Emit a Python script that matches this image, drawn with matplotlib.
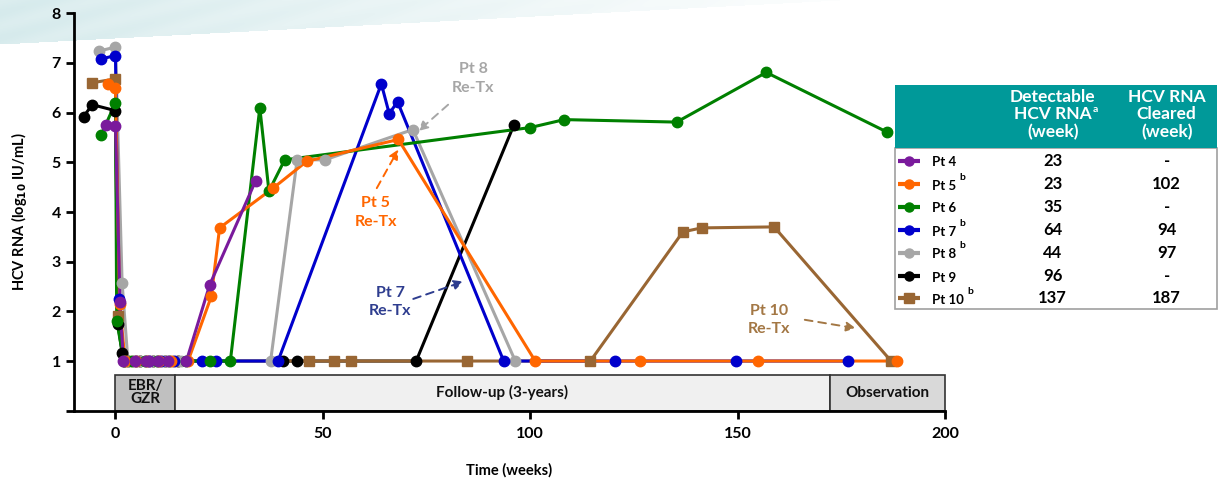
import numpy as np
import matplotlib
matplotlib.use("Agg")
import matplotlib.pyplot as plt
from matplotlib.patches import Rectangle

plt.rcParams['font.family'] = ['Lato', 'DejaVu Sans']

# ---------------- data ----------------
patients = ["Pt 4", "Pt 5", "Pt 6", "Pt 7", "Pt 8", "Pt 9", "Pt 10"]
superscripts = ["", "b", "", "b", "b", "", "b"]
detectable_week = ["23", "23", "35", "64", "44", "96", "137"]
cleared_week = ["-", "102", "-", "94", "97", "-", "187"]
colors = ["#7a1a9c", "#ff6600", "#008000", "#0000cc", "#a6a6a6", "#000000", "#996633"]
markers = ["o", "o", "o", "o", "o", "o", "s"]

pt4_weeks = [-2.4, 0, 1.1, 1.9, 4.8, 7.4, 8.2, 10.2, 12.6, 17.1, 22.7, 33.8]
pt4_vals = [5.76, 5.73, 2.18, 1, 1, 1, 1, 1, 1, 1, 2.53, 4.63]

pt5_weeks = [-1.9, 0, 1.0, 2.3, 5, 7.5, 10.5, 13.5, 17.5, 23.1, 25.1, 38, 46.1, 68.2, 101.2, 126.4, 154.8, 188.4]
pt5_vals = [6.57, 6.50, 2.15, 1, 1, 1, 1, 1, 1, 2.30, 3.68, 4.48, 5.02, 5.46, 1, 1, 1, 1]

pt6_weeks = [-3.4, 0, 0.3, 2, 4, 7, 10, 13, 17, 22.7, 27.7, 34.8, 37, 40.8, 100, 108.2, 135.3, 156.9, 186]
pt6_vals = [5.56, 6.20, 1.81, 1, 1, 1, 1, 1, 1, 1, 1, 6.10, 4.42, 5.05, 5.70, 5.86, 5.81, 6.81, 5.61]

pt7_weeks = [-3.5, 0, 0.8, 2, 5, 8, 11, 14, 20.8, 24.3, 39.2, 64.1, 66, 68, 93.6, 120.5, 149.7, 176.5]
pt7_vals = [7.08, 7.15, 2.25, 1, 1, 1, 1, 1, 1, 1, 1, 6.58, 5.98, 6.22, 1, 1, 1, 1]

pt8_weeks = [-4.0, 0, 1.6, 3, 6, 9, 12, 15.9, 37.4, 43.8, 50.5, 71.7, 96.4]
pt8_vals = [7.24, 7.32, 2.57, 1, 1, 1, 1, 1, 1, 5.05, 5.05, 5.66, 1]

pt9_weeks = [-7.7, -5.6, 0, 0.6, 1.6, 3, 6, 9, 12, 15, 40.4, 43.8, 72.5, 96.1]
pt9_vals = [5.92, 6.16, 6.04, 1.74, 1.17, 1, 1, 1, 1, 1, 1, 1, 1, 5.76]

pt10_weeks = [-5.7, 0, 0.6, 2.5, 5, 8, 11, 14, 46.6, 52.7, 56.7, 84.7, 114.5, 136.8, 141.3, 158.8, 187]
pt10_vals = [6.60, 6.68, 1.91, 1, 1, 1, 1, 1, 1, 1, 1, 1, 1, 3.60, 3.68, 3.70, 1]

series_weeks = [pt4_weeks, pt5_weeks, pt6_weeks, pt7_weeks, pt8_weeks, pt9_weeks, pt10_weeks]
series_vals = [pt4_vals, pt5_vals, pt6_vals, pt7_vals, pt8_vals, pt9_vals, pt10_vals]

phase_labels = ["EBR/\nGZR", "Follow-up (3-years)", "Observation"]
phase_starts = [0, 14.3, 172.3]
phase_ends = [14.3, 172.3, 200]
phase_colors = ["#c0c0c0", "#f0f0f0", "#d9d9d9"]

annot_texts = ["Pt 8\nRe-Tx", "Pt 5\nRe-Tx", "Pt 7\nRe-Tx", "Pt 10\nRe-Tx"]
annot_colors = ["#a6a6a6", "#ff6600", "#2e3d8f", "#a37744"]
annot_text_xy = [(86.3, 6.69), (62.7, 3.99), (66.2, 2.19), (157.6, 1.83)]
annot_start_xy = [(80.2, 6.16), (63.0, 4.48), (71.8, 2.25), (166.2, 1.83)]
annot_end_xy = [(73.0, 5.63), (68.2, 5.26), (83.9, 2.60), (178.5, 1.66)]

W, H = 1219, 478
fig = plt.figure(figsize=(W / 100, H / 100), dpi=100)

# ---------------- background swoosh ----------------
bg = fig.add_axes([0, 0, 1, 1], zorder=-5)
bg.set_xlim(0, W); bg.set_ylim(H, 0); bg.axis("off")
X, Y = np.meshgrid(np.arange(W), np.arange(H))
edge = 44 * (1 - X / 840.0)
inside = (Y < edge)
img = np.zeros((H, W, 4))
img[..., 0] = 0.82
img[..., 1] = 0.91
img[..., 2] = 0.92
alpha = np.clip(0.9 * (1 - X / 900.0), 0, 1) * (0.85 + 0.15 * np.sin(X / 30.0 + Y / 8.0) ** 2)
img[..., 3] = np.where(inside, alpha, 0)
bg.imshow(img, extent=(0, W, H, 0), aspect="auto", interpolation="bilinear")

# ---------------- main axes ----------------
ax = fig.add_axes([74 / W, 1 - 410.7 / H, (945 - 74) / W, (410.7 - 13.3) / H])
ax.patch.set_alpha(0)
ax.set_xlim(-10, 200)
ax.set_ylim(0, 8)
for s in ["top", "right"]:
    ax.spines[s].set_visible(False)
for s in ["left", "bottom"]:
    ax.spines[s].set_linewidth(2)
ax.set_yticks(range(0, 9))
ax.set_yticklabels([""] + [str(i) for i in range(1, 9)])
ax.set_xticks([0, 50, 100, 150, 200])
ax.tick_params(axis="both", direction="out", width=2, length=6, labelsize=11.5)
ax.tick_params(axis="x", pad=6)
for lab in ax.get_xticklabels() + ax.get_yticklabels():
    lab.set_fontweight("bold")
ax.set_ylabel("HCV RNA (log$_{\\mathbf{10}}$ IU/mL)", fontsize=10.5, fontweight="bold", labelpad=16)
ax.set_xlabel("Time (weeks)", fontsize=10.5, fontweight="bold", labelpad=16)

# phase bar
for lab, x0, x1, c in zip(phase_labels, phase_starts, phase_ends, phase_colors):
    ax.add_patch(Rectangle((x0, 0), x1 - x0, 0.71, facecolor=c, edgecolor="#333333", lw=1.2, zorder=2, clip_on=False))
    ax.text((x0 + x1) / 2, 0.36, lab, ha="center", va="center", fontsize=11, fontweight="bold",
            linespacing=0.9, zorder=3, color="#111111")

# lines first, then markers (markers sit on top of every line)
order = [5, 6, 4, 3, 2, 1, 0]
for k, i in enumerate(order):
    ax.plot(series_weeks[i], series_vals[i], color=colors[i], lw=2.2, zorder=4 + k * 0.1,
            solid_joinstyle="round", clip_on=False)
for k, i in enumerate(order):
    ax.plot(series_weeks[i], series_vals[i], linestyle="none", marker=markers[i],
            ms=7.5, color=colors[i], zorder=6 + k * 0.1, clip_on=False)

# annotations
for t, c, txy, sxy, exy in zip(annot_texts, annot_colors, annot_text_xy, annot_start_xy, annot_end_xy):
    ax.text(txy[0], txy[1], t, color=c, ha="center", va="center", fontsize=11.5, fontweight="bold",
            linespacing=1.4, zorder=8)
    ax.annotate("", xy=exy, xytext=sxy,
                arrowprops=dict(arrowstyle="-|>", linestyle=(0, (4, 3)), color=c, lw=1.4,
                                mutation_scale=14, shrinkA=0, shrinkB=0), zorder=8)

# ---------------- table overlay (pixel coordinates) ----------------
ov = fig.add_axes([0, 0, 1, 1], zorder=10)
ov.set_xlim(0, W); ov.set_ylim(H, 0); ov.axis("off")
ov.patch.set_alpha(0)
ov.add_patch(Rectangle((895, 148), 322, 161, facecolor="white", edgecolor="#a0a0a0", lw=1.2))
ov.add_patch(Rectangle((895, 85), 322, 63, facecolor="#009999", edgecolor="#009999", lw=0))

hdr1 = ["Detectable", "HCV RNA", "(week)"]
hdr2 = ["HCV RNA", "Cleared", "(week)"]
hdr_y = [96.7, 114.3, 131.7]
for j, (t, y) in enumerate(zip(hdr1, hdr_y)):
    tt = ov.text(1052.7, y, t, color="white", ha="center", va="center", fontsize=12.5, fontweight="bold")
    if j == 1:
        ov.annotate("a", xy=(1.0, 1.0), xycoords=tt, xytext=(0.5, 1.2), textcoords="offset points",
                    color="white", ha="left", va="top", fontsize=7.5, fontweight="bold")
for t, y in zip(hdr2, hdr_y):
    ov.text(1166.7, y, t, color="white", ha="center", va="center", fontsize=12.5, fontweight="bold")

row_y = [160.7, 184, 206.7, 230, 252.7, 276, 298.3]
for i, y in enumerate(row_y):
    ov.plot([898, 920], [y, y], color=colors[i], lw=3, solid_capstyle="butt")
    ov.plot([909], [y], marker=markers[i], color=colors[i], ms=6.5 if markers[i] == "o" else 7)
    lbl = ov.text(932, y + 1.5, patients[i], ha="left", va="center", fontsize=9.5, fontweight="bold")
    if superscripts[i]:
        ov.annotate(superscripts[i], xy=(1.0, 1.0), xycoords=lbl, xytext=(2.5, 5), textcoords="offset points",
                    ha="left", va="top", fontsize=7.5, fontweight="bold")
    ov.text(1052.7, y, detectable_week[i], ha="center", va="center", fontsize=12, fontweight="bold")
    ov.text(1166.7, y, cleared_week[i], ha="center", va="center", fontsize=12, fontweight="bold")

fig.savefig("out.png", dpi=100)
